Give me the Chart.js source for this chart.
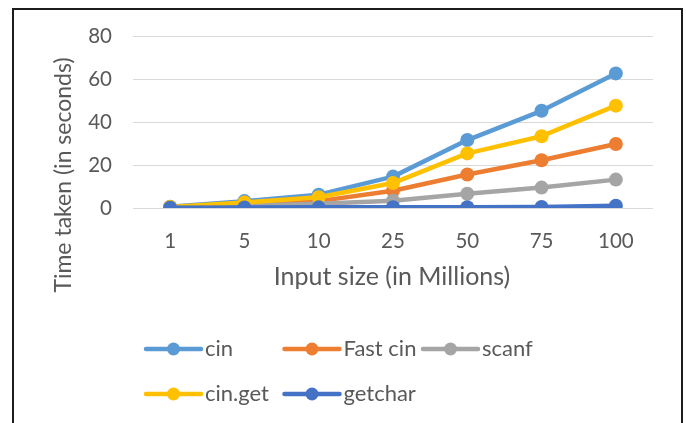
<!DOCTYPE html>
<html>
<head>
<meta charset="utf-8">
<script src="https://cdn.jsdelivr.net/npm/chart.js@4"></script>
<style>
  body { margin: 0; background: #fff; }
  #wrap { position: relative; width: 686px; height: 423px; overflow: hidden; }
  #frame {
    position: absolute; left: 12px; top: 8px; width: 671px; height: 500px;
    box-sizing: border-box; border: 2px solid #1c1c1c; pointer-events: none;
  }
</style>
</head>
<body>
<div id="wrap">
  <canvas id="io-chart" width="686" height="423"></canvas>
  <div id="frame"></div>
</div>
<script>
const sizes = ["1", "5", "10", "25", "50", "75", "100"];

const cinTimes = [0.6, 3.2, 6.2, 14.6, 31.6, 45.2, 62.6];
const fastCinTimes = [0.3, 1.5, 3.2, 8.0, 15.6, 22.2, 29.8];
const scanfTimes = [0.2, 1.0, 2.0, 3.4, 6.6, 9.5, 13.2];
const cinGetTimes = [0.5, 2.6, 5.0, 11.6, 25.4, 33.4, 47.6];
const getcharTimes = [0.1, 0.2, 0.3, 0.4, 0.4, 0.5, 1.1];

const yTicks = [0, 20, 40, 60, 80];

const textColor = "#595959";
const fontFamily = "Lato, 'Open Sans', sans-serif";

function series(label, data, color, order) {
  return {
    label: label,
    data: data,
    borderColor: color,
    backgroundColor: color,
    pointBackgroundColor: color,
    pointBorderColor: color,
    pointRadius: 7,
    pointBorderWidth: 0,
    borderWidth: 4.5,
    borderJoinStyle: "round",
    borderCapStyle: "round",
    tension: 0,
    order: order,
  };
}

// legend in a fixed grid, three per row, plus the two axis titles
const decorations = {
  id: "decorations",
  afterDraw(chart) {
    const ctx = chart.ctx;
    ctx.save();
    ctx.fillStyle = textColor;
    ctx.textBaseline = "middle";
    ctx.textAlign = "center";

    ctx.font = "25px " + fontFamily;
    ctx.fillText("Input size (in Millions)", 392, 277);

    ctx.save();
    ctx.font = "23px " + fontFamily;
    ctx.translate(64, 175);
    ctx.rotate(-Math.PI / 2);
    ctx.fillText("Time taken (in seconds)", 0, 0);
    ctx.restore();

    ctx.font = "22px " + fontFamily;
    ctx.textAlign = "left";
    chart.data.datasets.forEach((ds, i) => {
      const x = 146 + (i % 3) * 138.5;
      const y = 349 + Math.floor(i / 3) * 45;
      ctx.strokeStyle = ds.borderColor;
      ctx.lineWidth = 4.5;
      ctx.lineCap = "round";
      ctx.beginPath();
      ctx.moveTo(x, y);
      ctx.lineTo(x + 55, y);
      ctx.stroke();
      ctx.fillStyle = ds.borderColor;
      ctx.beginPath();
      ctx.arc(x + 27.5, y, 6.5, 0, Math.PI * 2);
      ctx.fill();
      ctx.fillStyle = textColor;
      ctx.fillText(ds.label, x + 59, y);
    });
    ctx.restore();
  },
};

const ctx = document.getElementById("io-chart").getContext("2d");

const ioChart = new Chart(ctx, {
  type: "line",
  data: {
    labels: sizes,
    datasets: [
      series("cin", cinTimes, "#5B9BD5", 5),
      series("Fast cin", fastCinTimes, "#ED7D31", 4),
      series("scanf", scanfTimes, "#A5A5A5", 3),
      series("cin.get", cinGetTimes, "#FFC000", 2),
      series("getchar", getcharTimes, "#4472C4", 1),
    ],
  },
  options: {
    responsive: false,
    animation: false,
    layout: {
      padding: { left: 0, top: 36, right: 33, bottom: 0 },
    },
    plugins: {
      legend: { display: false },
      tooltip: { enabled: false },
    },
    scales: {
      x: {
        offset: true,
        grid: { display: false },
        border: { display: false },
        ticks: {
          color: textColor,
          font: { family: fontFamily, size: 20.5 },
          padding: 13,
          maxRotation: 0,
        },
        afterFit(scale) {
          scale.height = 215;
        },
      },
      y: {
        min: 0,
        max: 80,
        afterBuildTicks(scale) {
          scale.ticks = yTicks.map((v) => ({ value: v }));
        },
        grid: { color: "#D9D9D9", lineWidth: 1, drawTicks: false },
        border: { display: false },
        ticks: {
          color: textColor,
          font: { family: fontFamily, size: 20.5 },
          padding: 21,
        },
        afterFit(scale) {
          scale.width = 133;
        },
      },
    },
  },
  plugins: [decorations],
});
</script>
</body>
</html>
